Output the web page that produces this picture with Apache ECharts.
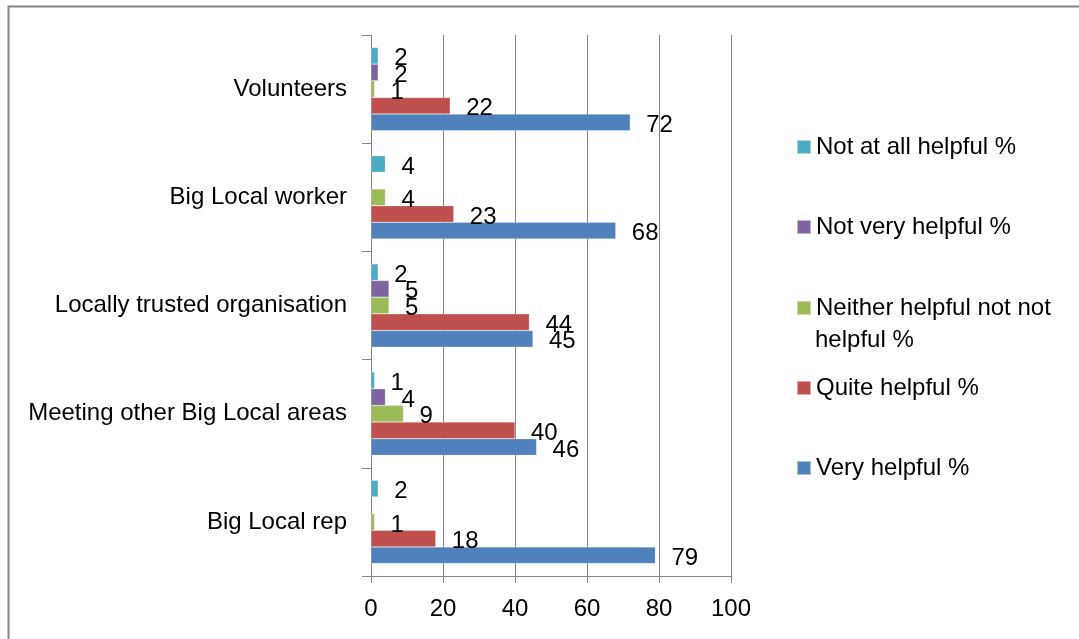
<!DOCTYPE html>
<html>
<head>
<meta charset="utf-8">
<script src="https://cdn.jsdelivr.net/npm/echarts@6/dist/echarts.min.js"></script>
<style>
  html, body { margin: 0; padding: 0; background: #fff; }
  #chart { width: 1079px; height: 639px; }
</style>
</head>
<body>
<div id="chart"></div>
<script>
// categories bottom -> top
var categories = ['Big Local rep', 'Meeting other Big Local areas', 'Locally trusted organisation', 'Big Local worker', 'Volunteers'];
var notAtAll = [2, 1, 2, 4, 2];
var notVery = [null, 4, 5, null, 2];
var neither = [1, 9, 5, 4, 1];
var quite = [18, 40, 44, 23, 22];
var very = [79, 46, 45, 68, 72];
var xTicks = [0, 20, 40, 60, 80, 100];

var font = 'Liberation Sans';
var fs = 24;
var gray = '#868686';

// series listed top -> bottom inside a category
var seriesDefs = [
  { name: 'Not at all helpful %', data: notAtAll, color: '#4BACC6', legendY: 147 },
  { name: 'Not very helpful %', data: notVery, color: '#8064A2', legendY: 227 },
  { name: 'Neither helpful not not helpful %', data: neither, color: '#9BBB59', legendY: 308 },
  { name: 'Quite helpful %', data: quite, color: '#C0504D', legendY: 388 },
  { name: 'Very helpful %', data: very, color: '#4F81BD', legendY: 468 }
];

var chart = echarts.init(document.getElementById('chart'));

var option = {
  animation: false,
  backgroundColor: '#fff',
  textStyle: { fontFamily: font },
  grid: { left: 371, right: 348, top: 35, bottom: 63 },
  xAxis: {
    type: 'value',
    min: xTicks[0],
    max: xTicks[xTicks.length - 1],
    interval: 20,
    axisLine: { show: true, lineStyle: { color: gray, width: 1 } },
    axisTick: { show: true, length: 7, lineStyle: { color: gray } },
    axisLabel: { color: '#000', fontSize: fs, fontFamily: font, margin: 21 },
    splitLine: { show: true, lineStyle: { color: gray, width: 1 } }
  },
  yAxis: {
    type: 'category',
    data: categories,
    axisLine: { show: true, lineStyle: { color: gray, width: 1 } },
    axisTick: { show: true, length: 9, lineStyle: { color: gray } },
    axisLabel: { color: '#000', fontSize: fs, fontFamily: font, margin: 24 },
    splitLine: { show: false }
  },
  legend: seriesDefs.map(function (s) {
    return {
      data: [s.name],
      orient: 'vertical',
      left: 796,
      top: s.legendY - 14,
      padding: 0,
      itemWidth: 14,
      itemHeight: 14,
      selectedMode: false,
      icon: 'rect',
      formatter: function (n) {
        return n === 'Neither helpful not not helpful %' ? 'Neither helpful not not' : n;
      },
      textStyle: { color: '#000', fontSize: fs, fontFamily: font, lineHeight: 28 }
    };
  }),
  graphic: [
    {
      type: 'rect',
      left: 6, top: 4,
      shape: { width: 1200, height: 800 },
      style: { fill: 'none', stroke: gray, lineWidth: 2 },
      silent: true
    },
    {
      type: 'text',
      left: 815, top: 340 - 14,
      style: { text: 'helpful %', font: fs + 'px "' + font + '"', fill: '#000', lineHeight: 28 }
    }
  ],
  series: seriesDefs.map(function (s) {
    return {
      name: s.name,
      type: 'bar',
      data: s.data,
      barGap: '0%',
      barCategoryGap: '23%',
      itemStyle: { color: s.color, borderColor: 'rgba(255,255,255,0.5)', borderWidth: 0.5 },
      label: {
        show: true,
        position: 'right',
        distance: 16,
        offset: [0, 3],
        color: '#000',
        fontSize: fs,
        fontFamily: font
      }
    };
  })
};

chart.setOption(option);
</script>
</body>
</html>
